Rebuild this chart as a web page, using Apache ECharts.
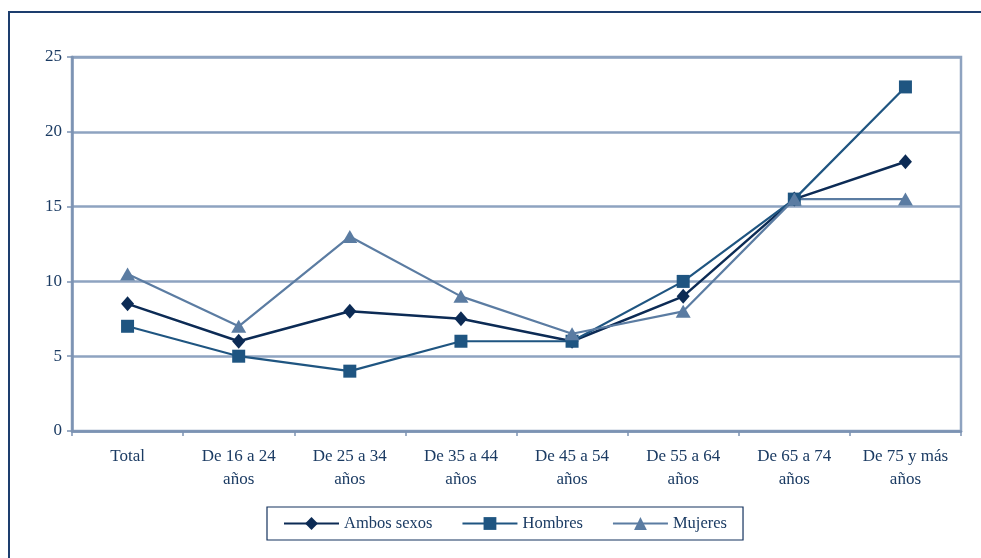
<!DOCTYPE html>
<html>
<head>
<meta charset="utf-8">
<script src="https://cdn.jsdelivr.net/npm/echarts@6/dist/echarts.min.js"></script>
<style>
  html, body { margin: 0; padding: 0; background: #ffffff; }
  #chart { width: 981px; height: 558px; }
</style>
</head>
<body>
<div id="chart"></div>
<script>
// Age groups along the horizontal axis
const categories = [
  'Total',
  'De 16 a 24\naños',
  'De 25 a 34\naños',
  'De 35 a 44\naños',
  'De 45 a 54\naños',
  'De 55 a 64\naños',
  'De 65 a 74\naños',
  'De 75 y más\naños'
];

// Percentages per group
const ambosSexos = [8.5, 6, 8, 7.5, 6, 9, 15.5, 18];
const hombres    = [7, 5, 4, 6, 6, 10, 15.5, 23];
const mujeres    = [10.5, 7, 13, 9, 6.5, 8, 15.5, 15.5];

const yTicks = { min: 0, max: 25, interval: 5 };

const FONT = '"Liberation Serif", "DejaVu Serif", serif';
const TEXT = '#1b3b63';
const GRID = '#8ea3c0';

const chart = echarts.init(document.getElementById('chart'), null, { renderer: 'canvas' });

function lineSeries(name, data, color, symbol, size, width) {
  return {
    name: name,
    type: 'line',
    data: data,
    symbol: symbol,
    symbolSize: size,
    lineStyle: { color: color, width: width },
    itemStyle: { color: color, borderWidth: 0 },
    emphasis: { disabled: true },
    z: 3
  };
}

chart.setOption({
  animation: false,
  backgroundColor: '#ffffff',
  textStyle: { fontFamily: FONT },
  graphic: [{
    type: 'rect',
    shape: { x: 9, y: 12, width: 1200, height: 800 },
    style: { fill: 'none', stroke: '#1d3e6e', lineWidth: 2 },
    silent: true,
    z: 0
  }],
  grid: {
    left: 72, right: 20, top: 57, bottom: 127,
    show: true,
    borderColor: GRID,
    borderWidth: 2.5,
    backgroundColor: 'transparent'
  },
  legend: {
    left: 267, top: 507,
    padding: [8, 16, 8, 16],
    itemWidth: 55, itemHeight: 16,
    itemGap: 29,
    borderColor: '#14335e',
    borderWidth: 1.2,
    textStyle: { fontFamily: FONT, fontSize: 16.5, color: TEXT },
    data: ['Ambos sexos', 'Hombres', 'Mujeres']
  },
  xAxis: {
    type: 'category',
    data: categories,
    boundaryGap: true,
    axisLine: { lineStyle: { color: '#7c93b3', width: 2.5 } },
    axisTick: { show: true, length: 5, lineStyle: { color: '#7c93b3', width: 1.5 } },
    axisLabel: {
      fontFamily: FONT, fontSize: 17, color: TEXT,
      margin: 14, lineHeight: 23, interval: 0
    },
    splitLine: { show: false }
  },
  yAxis: {
    type: 'value',
    min: yTicks.min, max: yTicks.max, interval: yTicks.interval,
    axisLine: { show: true, lineStyle: { color: '#7c93b3', width: 2.5 } },
    axisTick: { show: true, length: 5, lineStyle: { color: '#7c93b3', width: 1.5 } },
    axisLabel: { fontFamily: FONT, fontSize: 17, color: TEXT, margin: 10 },
    splitLine: { show: true, lineStyle: { color: GRID, width: 2.5 } }
  },
  series: [
    lineSeries('Ambos sexos', ambosSexos, '#0c2b55', 'diamond', [13, 15], 2.5),
    lineSeries('Hombres', hombres, '#1f5581', 'rect', 13, 2.2),
    lineSeries('Mujeres', mujeres, '#5b7ca2', 'triangle', [15, 13], 2.2)
  ]
});
</script>
</body>
</html>
